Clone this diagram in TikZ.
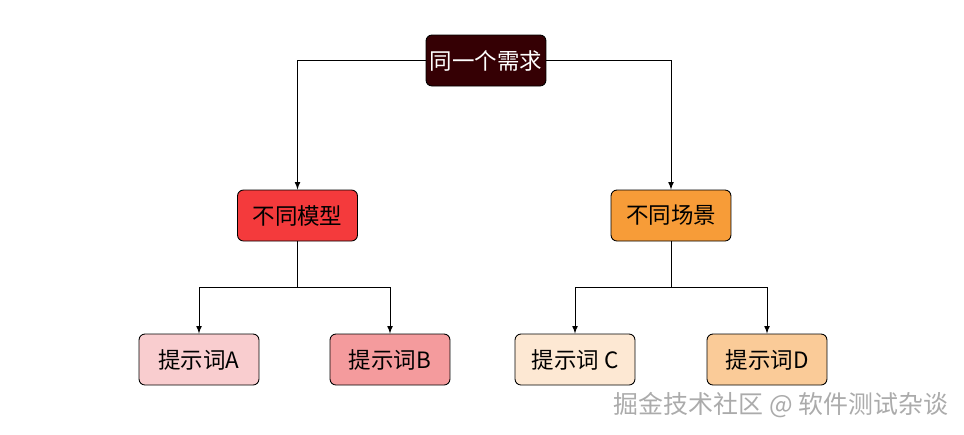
\documentclass[tikz,border=0pt]{standalone}
\usepackage{fontspec}
\setmainfont{Noto Sans CJK SC}
\usetikzlibrary{arrows}

\definecolor{need}{HTML}{350004}
\definecolor{redbox}{HTML}{F43A3C}
\definecolor{orangebox}{HTML}{F79C38}
\definecolor{pinkA}{HTML}{F9CDCF}
\definecolor{pinkB}{HTML}{F49B9D}
\definecolor{creamC}{HTML}{FDE8D3}
\definecolor{peachD}{HTML}{FACB98}

\begin{document}
\begin{tikzpicture}[x=0.02cm,y=-0.02cm]
\tikzstyle{box}=[draw=black,line width=0.5pt,rounded corners=0.12cm,minimum width=2.4cm,minimum height=1.02cm,inner sep=0pt,font=\fontsize{12.8}{15}\selectfont]
\tikzstyle{link}=[line width=0.5pt,black]

	\useasboundingbox (0,0) rectangle (964,434);

	\node (need) [box,fill=need,text=white] at (486,60.5) {同一个需求};

	\node (model) [box,fill=redbox] at (297.5,215.5) {不同模型};
	\node (scene) [box,fill=orangebox] at (671,215.5) {不同场景};

	\node (pA) [box,fill=pinkA] at (199,359.5) {提示词A};
	\node (pB) [box,fill=pinkB] at (390,359.5) {提示词B};
	\node (pC) [box,fill=creamC] at (575,359.5) {提示词 C};
	\node (pD) [box,fill=peachD] at (767,359.5) {提示词D};

	\draw [link,-latex] (need.west) -| (model.north);
	\draw [link,-latex] (need.east) -| (scene.north);

	\coordinate (jl) at (297.5,287.5);
	\coordinate (jr) at (671,287.5);
	\draw [link] (model.south) -- (jl);
	\draw [link,-latex] (jl) -| (pA.north);
	\draw [link,-latex] (jl) -| (pB.north);
	\draw [link] (scene.south) -- (jr);
	\draw [link,-latex] (jr) -| (pC.north);
	\draw [link,-latex] (jr) -| (pD.north);

%	watermark
	\node (mark) [text=black!33,font=\fontsize{14.2}{17}\selectfont] at (781,405) {掘金技术社区 @ 软件测试杂谈};

\end{tikzpicture}
\end{document}
